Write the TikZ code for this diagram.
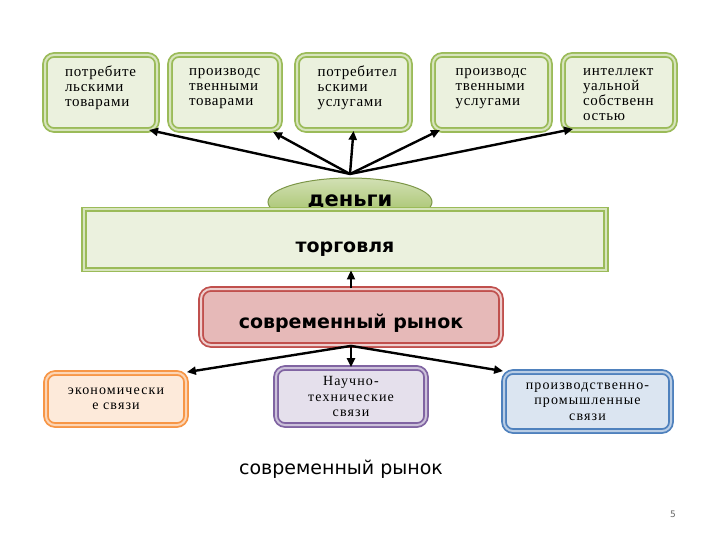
\documentclass[tikz,border=0pt]{standalone}
\usepackage{fontspec}
\setmainfont{Liberation Serif}
\setsansfont{DejaVu Sans}
\usetikzlibrary{arrows.meta,shapes.geometric}

\definecolor{grnline}{HTML}{9BBB59}
\definecolor{grnmid}{HTML}{D7E4BD}
\definecolor{grnfill}{HTML}{EBF1DE}
\definecolor{redline}{HTML}{C0504D}
\definecolor{redmid}{HTML}{E6B9B8}
\definecolor{redfill}{HTML}{E6B9B8}
\definecolor{orgline}{HTML}{F79646}
\definecolor{orgmid}{HTML}{FCD5B5}
\definecolor{orgfill}{HTML}{FDEADA}
\definecolor{purline}{HTML}{8064A2}
\definecolor{purmid}{HTML}{CCC1DA}
\definecolor{purfill}{HTML}{E5E0EC}
\definecolor{bluline}{HTML}{4F81BD}
\definecolor{blumid}{HTML}{B9CDE5}
\definecolor{blufill}{HTML}{DBE5F1}

\begin{document}
\begin{tikzpicture}[x=1pt, y=-1pt,
        frame/.style ={line width=1.8pt, double distance=2pt, inner sep=0pt},
        kind/.style  ={frame, rounded corners=9pt, draw=grnline, double=grnmid,
                       fill=grnfill, minimum width=#1, minimum height=75pt,
                       font=\fontsize{15}{15}\selectfont\addfontfeature{LetterSpace=5}},
        link/.style  ={font=\fontsize{14}{15.5}\selectfont\addfontfeature{LetterSpace=8},
                       align=center, rounded corners=9pt, frame},
        flow/.style  ={-{Triangle[length=9pt,width=8pt]}, line width=2.4pt}]
    \useasboundingbox (0,0) rectangle (720,540);

    %--- Top row ---
    \node[kind=112pt] (goods)  at (101,92.5)
        {\parbox[c][54pt][t]{72pt}{\strut потребите\\льскими\\товарами\hfill}};
    \node[kind=110pt] (means)  at (225,92.5)
        {\parbox[c][54pt][t]{72pt}{\strut производс\\твенными\\товарами\hfill}};
    \node[kind=113pt] (serv)   at (353.5,92.5)
        {\parbox[c][54pt][t]{72pt}{\strut потребител\\ьскими\\услугами\hfill}};
    \node[kind=117pt] (pserv)  at (491.5,92.5)
        {\parbox[c][54pt][t]{72pt}{\strut производс\\твенными\\услугами\hfill}};
    \node[kind=112pt] (ip)     at (619,92.5)
        {\parbox[c][54pt][t]{72pt}{\strut интеллект\\уальной\\собственн\\остью\hfill}};

    %--- Money and trade ---
    \node[ellipse, draw=grnline!80!black, line width=1pt, top color=grnline!45,
          bottom color=grnline, minimum width=164pt, minimum height=48pt,
          inner sep=0pt, font=\sffamily\bfseries\fontsize{21}{24}\selectfont]
        (money) at (350,202) {\raisebox{3pt}{деньги}};
    \node[frame, draw=grnline, double=grnmid, fill=grnfill,
          minimum width=522pt, minimum height=60pt, text height=26pt, text depth=0pt,
          font=\sffamily\bfseries\fontsize{19}{22}\selectfont]
        (trade) at (345,239.5) {торговля};
    \coordinate (hub) at (350,174);

    %--- Market ---
    \node[frame, rounded corners=10pt, draw=redline, double=redmid!70!white,
          fill=redfill, minimum width=300pt, minimum height=56pt,
          text height=22pt, text depth=0pt,
          font=\sffamily\bfseries\fontsize{19}{22}\selectfont]
        (market) at (351,317) {современный рынок};

    %--- Bottom row ---
    \node[link, draw=orgline, double=orgmid, fill=orgfill,
          minimum width=140pt, minimum height=52pt, text width=130pt]
        (econ) at (116,399) {экономически\\е связи};
    \node[link, draw=purline, double=purmid, fill=purfill,
          minimum width=150pt, minimum height=57pt, text width=140pt]
        (sci) at (351,396.5) {Научно-\\технические\\связи};
    \node[link, draw=bluline, double=blumid, fill=blufill,
          minimum width=167pt, minimum height=59pt, text width=160pt]
        (ind) at (587.5,401.5) {производственно-\\промышленные\\связи};

    %--- Caption and page number ---
    \node[font=\sffamily\fontsize{19}{22}\selectfont] (cap) at (341,469)
        {современный рынок};
    \node[font=\sffamily\fontsize{9}{11}\selectfont, text=black!60] (page)
        at (673,514) {5};

    %--- Arrows from money ---
    \draw[flow] (hub) -- (149,130);
    \draw[flow] (hub) -- (273,132);
    \draw[flow] (hub) -- (serv.south);
    \draw[flow] (hub) -- (440,130);
    \draw[flow] (hub) -- (573,129);

    %--- Market arrows ---
    \draw[flow, line width=1.8pt] (market.north) -- (trade.south -| market.north);
    \draw[flow] (market.south) -- (econ.north east);
    \draw[flow] (market.south) -- (sci.north -| market.south);
    \draw[flow] (market.south) -- (ind.north west);
\end{tikzpicture}
\end{document}
